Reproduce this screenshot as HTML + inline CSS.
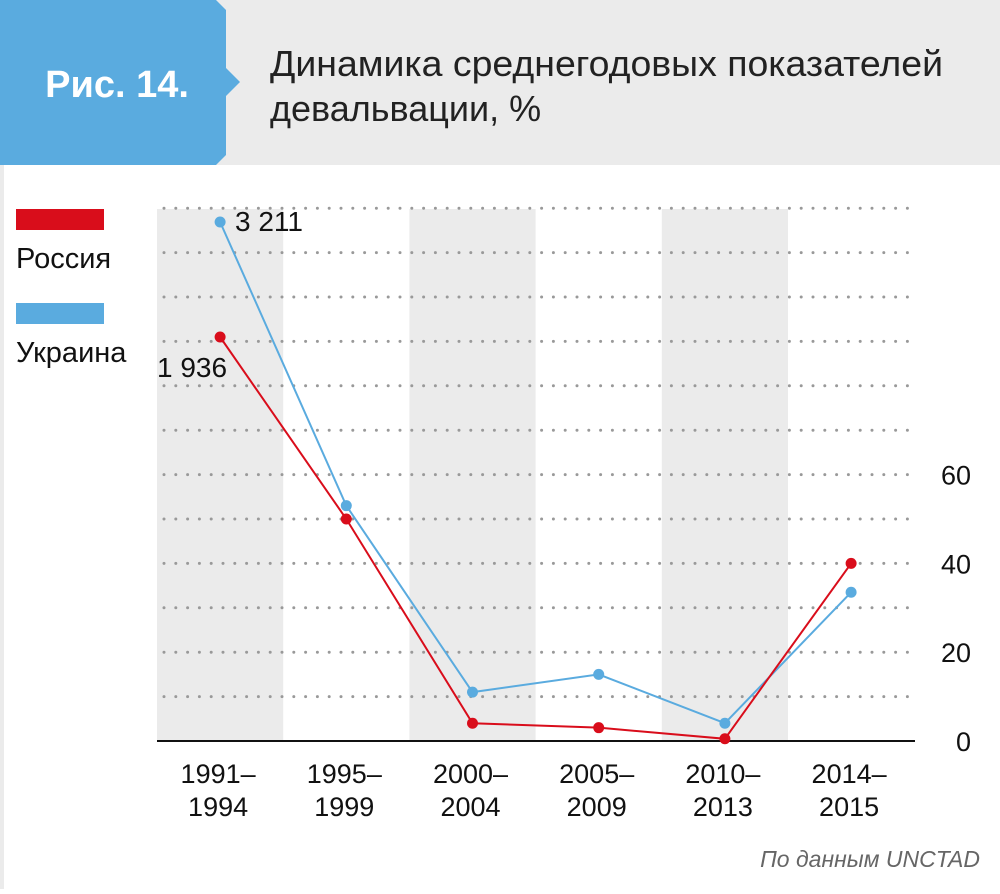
<!DOCTYPE html>
<html><head><meta charset="utf-8">
<style>
body{margin:0;width:1000px;height:889px;background:#fff;overflow:hidden;font-family:"Liberation Sans",sans-serif;}
</style></head>
<body>
<svg width="1000" height="889" viewBox="0 0 1000 889">
<rect x="0" y="0" width="1000" height="165" fill="#ebebeb"/>
<rect x="0" y="165" width="4" height="724" fill="#ebebeb"/>
<polygon points="0,0 216,0 226,10 226,68 240,82 226,96 226,155 216,165 0,165" fill="#5aabdf"/>
<text x="117" y="97" text-anchor="middle" font-size="38" font-weight="bold" fill="#fff">Рис. 14.</text>
<text x="270" y="76" font-size="36" fill="#222" textLength="673" lengthAdjust="spacingAndGlyphs">Динамика среднегодовых показателей</text>
<text x="270" y="121" font-size="36" fill="#222">девальвации, %</text>
<g id="bands"></g>
<g id="grid"></g>
<rect x="16" y="209" width="88" height="21" fill="#d90d1b"/>
<text x="16" y="268" font-size="29" fill="#111">Россия</text>
<rect x="16" y="303" width="88" height="21" fill="#5aabdf"/>
<text x="16" y="362" font-size="29" fill="#111">Украина</text>
<g id="yt"></g>
<g id="xt"></g>
<g id="series"></g>
<text x="235" y="231" font-size="28" fill="#111">3 211</text>
<text x="157" y="377" font-size="28" fill="#111">1 936</text>
<text x="980" y="867" text-anchor="end" font-size="23" font-style="italic" fill="#666">По данным UNCTAD</text>
</svg>
<script>
const categories=[["1991–","1994"],["1995–","1999"],["2000–","2004"],["2005–","2009"],["2010–","2013"],["2014–","2015"]];
const russia=[1936,50,4,3,0.5,40];
const ukraine=[3211,53,11,15,4,33.5];
const yTicks=[0,20,40,60];
const NS="http://www.w3.org/2000/svg";
function mk(t,a,p){const e=document.createElementNS(NS,t);for(const k in a)e.setAttribute(k,a[k]);p.appendChild(e);return e;}
const x0=157,bw=126.2;
function xs(i){return x0+bw*i+bw/2;}
function ys(v){
  if(v<=60)return 741-v*4.44;
  if(v<=1936)return 474.6-(v-60)*(474.6-337)/(1936-60);
  return 337-(v-1936)*(337-222)/(3211-1936);
}
const bands=document.getElementById('bands');
for(let i=0;i<6;i+=2){const r=mk('rect',{x:x0+bw*i,y:209,width:bw,height:532,fill:'#ebebeb'},bands);

}
const grid=document.getElementById('grid');
for(let k=1;k<=12;k++){const y=741-k*44.4;const l=mk('line',{x1:164,x2:915,y1:y,y2:y,stroke:'#999','stroke-width':3,'stroke-dasharray':'0 11.8','stroke-linecap':'round'},grid);

}
const ax=mk('line',{x1:157,x2:915,y1:741,y2:741,stroke:'#111','stroke-width':2},grid);


const yt=document.getElementById('yt');
yTicks.forEach(v=>{const t=mk('text',{x:971,y:ys(v)+10,'text-anchor':'end','font-size':27,fill:'#111'},yt);t.textContent=v;

});
const xt=document.getElementById('xt');
categories.forEach((c,i)=>{c.forEach((s,j)=>{const t=mk('text',{x:xs(i)-2,y:783+j*33,'text-anchor':'middle','font-size':27,fill:'#111'},xt);t.textContent=s;

});});
const sg=document.getElementById('series');
[[ukraine,'#5aabdf','ukraine'],[russia,'#d90d1b','russia']].forEach(([d,c,n])=>{
const p=mk('polyline',{points:d.map((v,i)=>xs(i)+','+ys(v)).join(' '),fill:'none',stroke:c,'stroke-width':2},sg);


d.forEach((v,i)=>{const q=mk('circle',{cx:xs(i),cy:ys(v),r:5.5,fill:c},sg);

});});
</script>
</body></html>
